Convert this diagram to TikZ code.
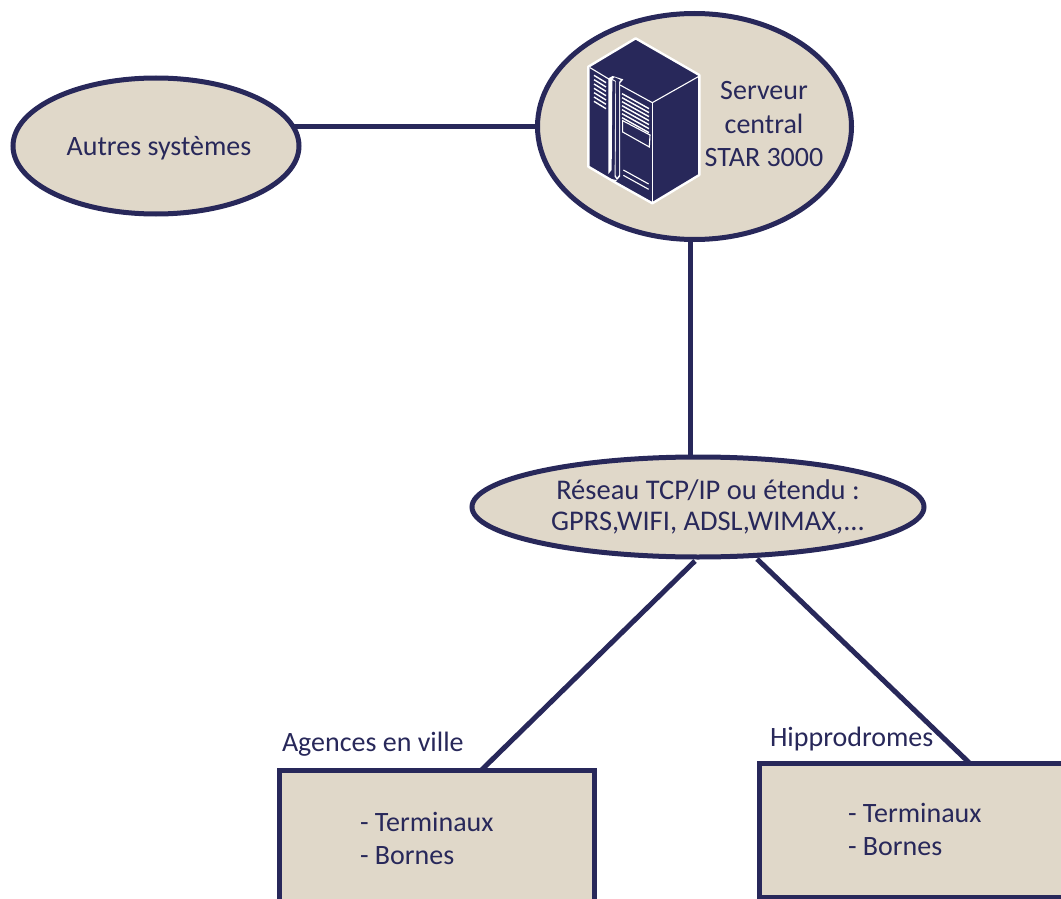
\documentclass[tikz,border=0pt]{standalone}
\usepackage{fontspec}
\setmainfont{Carlito}
\usetikzlibrary{shapes.geometric,calc}
\definecolor{navy}{HTML}{28285A}
\definecolor{sand}{HTML}{E0D8C9}
\tikzset{
 bubble/.style={ellipse,draw=navy,fill=sand,line width=5pt,inner sep=0pt,outer sep=0pt},
 site/.style={rectangle,draw=navy,fill=sand,line width=5pt,inner sep=0pt,outer sep=0pt,anchor=north west},
 link/.style={draw=navy,line width=5pt},
 txt/.style={text=navy,font=\fontsize{28}{33.5}\selectfont,inner sep=0pt,outer sep=0pt},
 listtxt/.style={txt,align=left,anchor=west},
 ln/.style={draw=white,line width=1.1pt}
}
\begin{document}
\begin{tikzpicture}[x=1pt,y=-1pt]
\useasboundingbox (0,0) rectangle (1061,899);
\clip (0,0) rectangle (1061,899);
\node[bubble,minimum width=314pt,minimum height=226pt] (serveur) at (694.5,126.5) {};
\node[bubble,minimum width=286pt,minimum height=136pt] (autres) at (156,146) {};
\node[bubble,minimum width=452pt,minimum height=100pt] (reseau) at (698,507) {};
\node[site,minimum width=315pt,minimum height=200pt] (agences) at (279.5,770.5) {};
\node[site,minimum width=320pt,minimum height=134pt] (hippo) at (759,763.5) {};
\draw[link] (serveur.west) -- (serveur.west -| autres.8.3);
\draw[link] (serveur.268.25) -- (serveur.268.25 |- reseau.north);
\draw[link] ($(reseau.south)+(-3,4)$) -- (agences.north -| 481,770);
\draw[link] ($(reseau.south)+(59,2)$) -- (hippo.north -| 970,763);
\node[txt] (tautres) at (159,148) {Autres systèmes};
\node[txt,align=center] (tserveur) at (764,124.5) {Serveur\\central\\STAR 3000};
\node[txt,align=center,font=\fontsize{28.5}{30.5}\selectfont] (treseau) at (708,507) {Réseau TCP/IP ou étendu :\\GPRS,WIFI, ADSL,WIMAX,...};
\node[txt,anchor=west] (tagences) at (282,744.5) {Agences en ville};
\node[txt,anchor=west] (thippo) at (770,739) {Hipprodromes};
\node[listtxt] (lagences) at (360,838.5) {- Terminaux\\- Bornes};
\node[listtxt] (lhippo) at (848,829.5) {- Terminaux\\- Bornes};
\begin{scope}[xshift=570pt,yshift=-20pt,x=0.3333pt,y=-0.3333pt]
\filldraw[navy,draw=white,line width=2.4pt,line join=round,fill=navy]
 (197,55)--(388,165)--(388,465)--(247,550)--(140,490)--(55,440)--(55,140)--cycle;
\draw[ln] (60,143)--(118,178);
\draw[ln] (150,195)--(247,248)--(385,170);
\draw[ln] (247,248)--(247,545);
\foreach \i in {0,1,2,3,4,5,6}
 \draw[ln,line width=1.4pt] (72,{166+\i*13})--(108,{188+\i*13});
\foreach \i in {0,1,2,3,4,5,6}
 \draw[ln,line width=1.4pt] (156,{221+\i*12})--(237,{266+\i*12});
\draw[ln] (158,302)--(240,345)--(238,381)--(158,336)--cycle;
\draw[ln] (160,450)--(236,492);
\draw[ln] (160,466)--(236,508);
\fill[white] (115,175)--(128,168)--(160,178)--(150,190)--(150,470)--(141,480)--(134,470)--(136,185)--(127,180)--(125,450)--(115,462)--cycle;
\fill[navy] (128,177)--(134,172)--(152,180)--(147,186)--(147,465)--(141,473)--(137,465)--(138,183)--cycle;
\draw[ln] (58,442)--(120,478)--(140,482);
\end{scope}
\end{tikzpicture}
\end{document}
